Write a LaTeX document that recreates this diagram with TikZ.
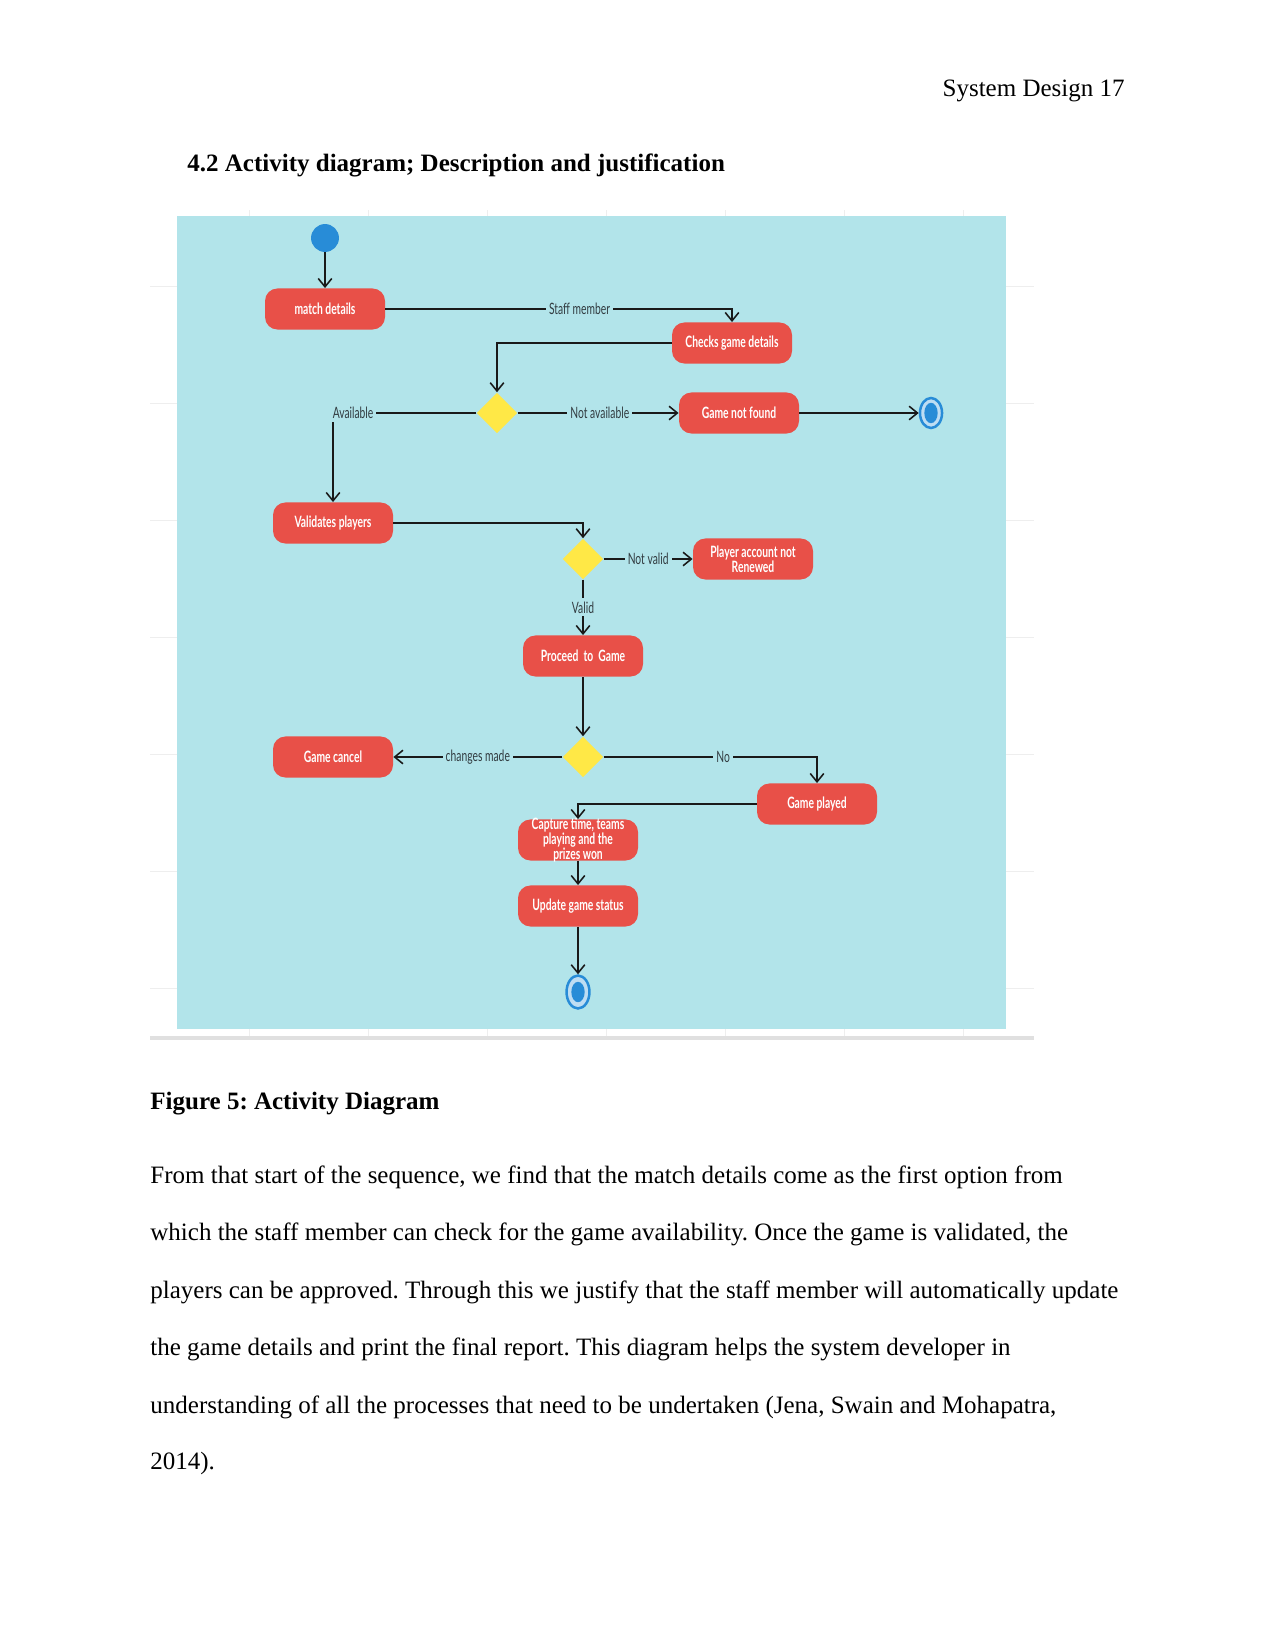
\documentclass[tikz,border=0pt]{standalone}
\usepackage[RGB]{xcolor}
\usepackage{fontspec}
\setmainfont{Liberation Serif}
\newfontfamily\diagfont[FakeStretch=0.66]{Lato}
\usetikzlibrary{arrows.meta,shapes.geometric}
\frenchspacing
\definecolor{panel}{RGB}{178,228,234}
\definecolor{act}{RGB}{232,80,72}
\definecolor{dec}{RGB}{255,232,70}
\definecolor{dot}{RGB}{40,140,215}
\definecolor{edge}{RGB}{25,25,25}
\definecolor{lbl}{RGB}{50,60,65}
\definecolor{gridline}{RGB}{238,238,238}
\tikzset{
  pagetext/.style={anchor=base west, inner sep=0pt, font=\fontsize{12pt}{14pt}\selectfont},
  activity/.style={rectangle, rounded corners=6pt, fill=act, text=white, minimum width=57.6pt,
    minimum height=19.7pt, inner sep=1pt, align=center,
    font=\diagfont\bfseries\fontsize{7.5pt}{7.4pt}\selectfont},
  decision/.style={diamond, fill=dec, minimum width=19.5pt, minimum height=19.5pt, inner sep=0pt},
  startstate/.style={circle, fill=dot, minimum size=13.4pt, inner sep=0pt},
  endstate/.style={ellipse, draw=dot, line width=1.2pt, fill=dot!30!white, minimum width=10.6pt,
    minimum height=14.4pt, inner sep=0pt,
    path picture={\fill[dot] (path picture bounding box.center) ellipse [x radius=3.2pt, y radius=4.9pt];}},
  edgelabel/.style={fill=panel, text=lbl, inner sep=1.5pt, font=\diagfont\fontsize{7.5pt}{8pt}\selectfont},
  flow/.style={draw=edge, line width=0.75pt, -{Straight Barb[length=4pt,width=6.5pt]}},
}
\begin{document}
\begin{tikzpicture}[x=0.48pt, y=-0.48pt]
\useasboundingbox (0,0) rectangle (1275,1650);
% page text
\node[pagetext, anchor=base east] (header) at (1125,97) {System Design 17};
\node[pagetext, font=\fontsize{12pt}{14pt}\selectfont\bfseries] (heading) at (187,172) {4.2 Activity diagram; Description and justification};
% frame, grid and panel
\foreach \x in {249,368,...,1034}{
  \draw[gridline] (\x,210)--(\x,1036);
}
\foreach \y in {286,403,...,1036}{
  \draw[gridline] (150,\y)--(1034,\y);
}
\draw[black!12, line width=2pt] (150,1038)--(1034,1038);
\fill[panel] (177,216) rectangle (1006,1029);
% states and activities
\node[startstate] (start) at (325,238) {};
\node[activity] (match) at (325,309) {match details};
\node[activity] (checks) at (732,343) {Checks game details};
\node[decision] (avail) at (497,413) {};
\node[activity] (notfound) at (739,413) {Game not found};
\node[endstate] (end1) at (931,413) {};
\node[activity] (validates) at (333,523) {Validates players};
\node[decision] (valid) at (583,559) {};
\node[activity] (renewed) at (753,559) {Player account not\\Renewed};
\node[activity] (proceed) at (583,656) {Proceed~ to~ Game};
\node[decision] (changes) at (583,757) {};
\node[activity] (cancel) at (333,757) {Game cancel};
\node[activity] (played) at (817,804) {Game played};
\node[activity, label={[activity, fill=none, minimum height=0pt, inner sep=0pt]center:{Capture time, teams\\playing and the\\prizes won}}] (capture) at (578,840) {};
\node[activity] (update) at (578,906) {Update game status};
\node[endstate, minimum width=11pt, minimum height=15.8pt] (end2) at (578,992) {};
% connectors
\draw[flow] (start) -- (match);
\draw[flow] (match.east) -| node[edgelabel, pos=0.28] {Staff member} (checks.north);
\draw[flow] (checks.west) -| (avail.north);
\draw[flow] (avail.east) -- node[edgelabel, pos=0.51] {Not available} (notfound.west);
\draw[flow] (notfound.east) -- (end1.west);
\draw[flow] (avail.west) -| node[edgelabel, pos=0.43] {Available} (validates.north);
\draw[flow] (validates.east) -| (valid.north);
\draw[flow] (valid.east) -- node[edgelabel] {Not valid} (renewed.west);
\draw[flow] (valid.south) -- node[edgelabel] {Valid} (proceed.north);
\draw[flow] (proceed.south) -- (changes.north);
\draw[flow] (changes.west) -- node[edgelabel] {changes made} (cancel.east);
\draw[flow] (changes.east) -| node[edgelabel, pos=0.28] {No} (played.north);
\draw[flow] (played.west) -| (capture.north);
\draw[flow] (capture.south) -- (update.north);
\draw[flow] (update.south) -- (end2.north);
% caption and paragraph
\node[pagetext, font=\fontsize{12pt}{14pt}\selectfont\bfseries] (caption) at (150,1109) {Figure 5: Activity Diagram};
\node[pagetext] (line1) at (150,1183) {From that start of the sequence, we find that the match details come as the first option from};
\node[pagetext] (line2) at (150,1240) {which the staff member can check for the game availability. Once the game is validated, the};
\node[pagetext] (line3) at (150,1298) {players can be approved. Through this we justify that the staff member will automatically update};
\node[pagetext] (line4) at (150,1355) {the game details and print the final report. This diagram helps the system developer in};
\node[pagetext] (line5) at (150,1413) {understanding of all the processes that need to be undertaken (Jena, Swain and Mohapatra,};
\node[pagetext] (line6) at (150,1469) {2014).};
\end{tikzpicture}
\end{document}
